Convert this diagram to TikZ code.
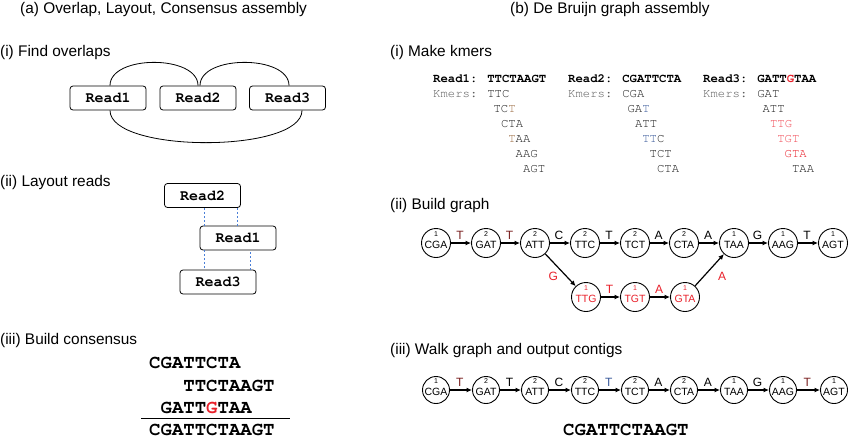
\documentclass[tikz,border=0pt]{standalone}
\usepackage{fontspec}
\setmainfont{Liberation Sans}
\newfontfamily\monofont{TeX Gyre Cursor}
\usetikzlibrary{arrows.meta,calc}
\definecolor{redg}{HTML}{E8202A}
\definecolor{pinkred}{HTML}{F04A55}
\definecolor{dashblue}{HTML}{4A7FD8}
\definecolor{kgray}{HTML}{1A1A1A}
\definecolor{lgray}{HTML}{5A5A5A}
\definecolor{dred}{HTML}{7A2020}
\definecolor{kblue}{HTML}{3A5A9A}
\definecolor{kbrown}{HTML}{9A6A40}
\newcommand{\dbnode}[6][black]{%
  \node[#6, text=#1] (#2) at (#3) {};
  \node[font=\fontsize{7}{7}\selectfont, inner sep=0pt, text=#1] at ([yshift=9pt]#2.center) {#4};
  \node[font=\fontsize{10.5}{11}\selectfont, inner sep=0pt, text=#1] at ([yshift=-1.5pt]#2.center) {#5};}
\begin{document}
\begin{tikzpicture}[x=1pt,y=-1pt,
 heading/.style={anchor=base west, inner sep=0pt, font=\fontsize{15.4}{18}\selectfont},
 readbox/.style={draw, rounded corners=3pt, line width=0.8pt, minimum width=76pt, minimum height=24pt, inner sep=0pt, font=\monofont\bfseries\fontsize{15}{18}\selectfont},
 cons/.style={anchor=base west, inner sep=0pt, font=\monofont\bfseries\fontsize{19}{22}\selectfont},
 kmer/.style={anchor=base west, inner sep=0pt, font=\monofont\fontsize{12.3}{14}\selectfont, text=kgray},
 kread/.style={anchor=base west, inner sep=0pt, font=\monofont\bfseries\fontsize{12.3}{14}\selectfont},
 gnode/.style={draw, circle, line width=0.9pt, minimum size=29pt, inner sep=0pt},
 wnode/.style={gnode, minimum size=27pt},
 edge/.style={line width=1.2pt, -{Latex[length=5.5pt,width=5pt]}},
 elab/.style={font=\fontsize{12}{14}\selectfont, inner sep=1pt},
 olap/.style={line width=0.8pt},
 dashline/.style={dashblue, line width=0.6pt, dash pattern=on 2pt off 2pt}
]
\useasboundingbox (0,0) rectangle (850,439);

% ---------- headings ----------
\node[heading] (ha) at (20,13) {(a) Overlap, Layout, Consensus assembly};
\node[heading] (hb) at (510,13) {(b) De Bruijn graph assembly};
\node[heading] (h1) at (0,56) {(i) Find overlaps};
\node[heading] (h2) at (0,186) {(ii) Layout reads};
\node[heading] (h3) at (0,344) {(iii) Build consensus};
\node[heading] (h4) at (390,56) {(i) Make kmers};
\node[heading] (h5) at (390,209) {(ii) Build graph};
\node[heading] (h6) at (390,354) {(iii) Walk graph and output contigs};

% ---------- (a)(i) overlaps ----------
\node[readbox] (r1) at (108,98) {Read1};
\node[readbox] (r2) at (198,98) {Read2};
\node[readbox] (r3) at (287.5,98) {Read3};
\draw[olap] ([xshift=2pt]r1.north) .. controls +(0,-31) and +(0,-31) .. (r2.north);
\draw[olap] ([xshift=2pt]r2.north) .. controls +(0,-31) and +(0,-31) .. ([xshift=1.5pt]r3.north);
\draw[olap] ([xshift=2pt]r1.south) .. controls +(0,43) and +(0,43) .. ([xshift=14.5pt]r3.south);

% ---------- (a)(ii) layout ----------
\node[readbox] (l2) at (202.5,195.5) {Read2};
\node[readbox] (l1) at (238,238) {Read1};
\node[readbox] (l3) at (218,282) {Read3};
\draw[dashline] ([xshift=5pt]l1.north west) -- ([xshift=5pt]l1.north west |- l2.south);
\draw[dashline] ([xshift=-4pt]l2.south east) -- ([xshift=-4pt]l2.south east |- l1.north);
\draw[dashline] ([xshift=5pt]l1.south west) -- ([xshift=5pt]l1.south west |- l3.north);
\draw[dashline] ([xshift=-6pt]l3.north east) -- ([xshift=-6pt]l3.north east |- l1.south);

% ---------- (a)(iii) consensus ----------
\node[cons] (c1) at (149,368) {CGATTCTA};
\node[cons] (c2) at (183.2,391) {TTCTAAGT};
\node[cons] (c3) at (160.4,413) {GATT\textcolor{redg}{G}TAA};
\draw[line width=0.9pt] (141,418.5) coordinate (cl1) -- (290,418.5) coordinate (cl2);
\node[cons] (c4) at (149,435.5) {CGATTCTAAGT};

% ---------- (b)(i) kmers ----------
\node[kread] (k1) at (433,82) {Read1: TTCTAAGT};
\node[kmer] at (433,97) {\textcolor{lgray}{Kmers:} TTC};
\node[kmer] at (493.4,112) {TC\textcolor{kbrown}{T}};
\node[kmer] at (500.8,127) {CTA};
\node[kmer] at (508.1,142) {\textcolor{kbrown}{T}AA};
\node[kmer] at (515.5,157) {AAG};
\node[kmer] at (522.9,172) {AGT};

\node[kread] (k2) at (568,82) {Read2: CGATTCTA};
\node[kmer] at (568,97) {\textcolor{lgray}{Kmers:} CGA};
\node[kmer] at (627.4,112) {GA\textcolor{kblue}{T}};
\node[kmer] at (634.8,127) {ATT};
\node[kmer] at (642.1,142) {\textcolor{kblue}{TT}C};
\node[kmer] at (649.5,157) {TCT};
\node[kmer] at (656.9,172) {CTA};

\node[kread] (k3) at (703,82) {Read3: GATT\textcolor{redg}{G}TAA};
\node[kmer] at (703,97) {\textcolor{lgray}{Kmers:} GAT};
\node[kmer] at (762.4,112) {ATT};
\node[kmer, text=pinkred] at (769.8,127) {TTG};
\node[kmer, text=pinkred] at (777.1,142) {TGT};
\node[kmer, text=redg] at (784.5,157) {GTA};
\node[kmer] at (791.9,172) {TAA};

% ---------- (b)(ii) build graph ----------
\dbnode{g1}{436,243}{1}{CGA}{gnode}
\dbnode{g2}{486,243}{2}{GAT}{gnode}
\dbnode{g3}{535,243}{2}{ATT}{gnode}
\dbnode{g4}{585,243}{2}{TTC}{gnode}
\dbnode{g5}{635,243}{2}{TCT}{gnode}
\dbnode{g6}{684,243}{2}{CTA}{gnode}
\dbnode{g7}{734,243}{1}{TAA}{gnode}
\dbnode{g8}{783,243}{1}{AAG}{gnode}
\dbnode{g9}{833,243}{1}{AGT}{gnode}
\dbnode[redg]{b1}{586,297}{1}{TTG}{gnode}
\dbnode[redg]{b2}{635,297}{1}{TGT}{gnode}
\dbnode[redg]{b3}{685,297}{1}{GTA}{gnode}

\draw[edge] (g1) -- node[elab, above=2pt, pos=.45, text=dred] {T} (g2);
\draw[edge] (g2) -- node[elab, above=2pt, pos=.45, text=dred] {T} (g3);
\draw[edge] (g3) -- node[elab, above=2pt, pos=.45] {C} (g4);
\draw[edge] (g4) -- node[elab, above=2pt, pos=.45] {T} (g5);
\draw[edge] (g5) -- node[elab, above=2pt, pos=.45] {A} (g6);
\draw[edge] (g6) -- node[elab, above=2pt, pos=.45] {A} (g7);
\draw[edge] (g7) -- node[elab, above=2pt, pos=.45] {G} (g8);
\draw[edge] (g8) -- node[elab, above=2pt, pos=.45] {T} (g9);
\draw[edge] (g3) -- node[elab, below left=1pt, text=redg] {G} (b1);
\draw[edge] (b1) -- node[elab, above=2pt, pos=.45, text=redg] {T} (b2);
\draw[edge] (b2) -- node[elab, above=2pt, pos=.45, text=redg] {A} (b3);
\draw[edge] (b3) -- node[elab, below right=4pt, pos=.6, text=redg] {A} (g7);

% ---------- (b)(iii) walk graph ----------
\dbnode{w1}{436,390}{1}{CGA}{wnode}
\dbnode{w2}{486,390}{2}{GAT}{wnode}
\dbnode{w3}{535,390}{2}{ATT}{wnode}
\dbnode{w4}{585,390}{2}{TTC}{wnode}
\dbnode{w5}{635,390}{2}{TCT}{wnode}
\dbnode{w6}{684,390}{2}{CTA}{wnode}
\dbnode{w7}{734,390}{1}{TAA}{wnode}
\dbnode{w8}{783,390}{1}{AAG}{wnode}
\dbnode{w9}{834,390}{1}{AGT}{wnode}
\draw[edge] (w1) -- node[elab, above=2pt, pos=.45, text=dred] {T} (w2);
\draw[edge] (w2) -- node[elab, above=2pt, pos=.45] {T} (w3);
\draw[edge] (w3) -- node[elab, above=2pt, pos=.45] {C} (w4);
\draw[edge] (w4) -- node[elab, above=2pt, pos=.45, text=kblue] {T} (w5);
\draw[edge] (w5) -- node[elab, above=2pt, pos=.45] {A} (w6);
\draw[edge] (w6) -- node[elab, above=2pt, pos=.45] {A} (w7);
\draw[edge] (w7) -- node[elab, above=2pt, pos=.45] {G} (w8);
\draw[edge] (w8) -- node[elab, above=2pt, pos=.45, text=dred] {T} (w9);
\node[cons] (contig) at (563,435.5) {CGATTCTAAGT};
\end{tikzpicture}
\end{document}
